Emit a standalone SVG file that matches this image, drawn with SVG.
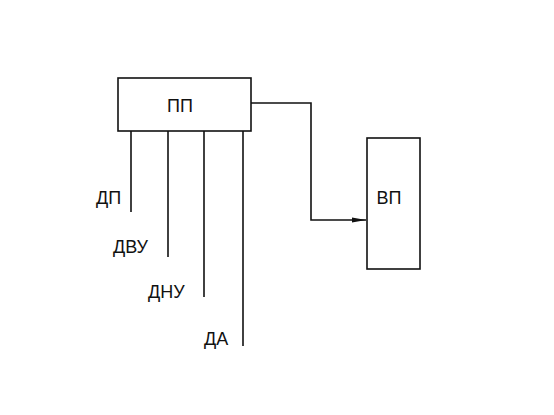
<svg xmlns="http://www.w3.org/2000/svg" width="554" height="415" viewBox="0 0 554 415">
<style>
.box{fill:#fff;stroke:#111;stroke-width:1.6}
.ln{fill:none;stroke:#111;stroke-width:1.6}
text{font-family:"Liberation Sans",Arial,sans-serif;font-size:18px;fill:#111}
</style>
<defs>
<marker id="arr" viewBox="0 0 14 6" refX="14" refY="3" markerWidth="14" markerHeight="6" markerUnits="userSpaceOnUse" orient="auto">
<path d="M0,0.5 L14,3 L0,5.5 Z" fill="#111"/>
</marker>
</defs>
<rect width="554" height="415" fill="#fff"/>
<g id="connectors">
<path class="ln" d="M131,131 V212"/>
<path class="ln" d="M168,131 V257"/>
<path class="ln" d="M204,131 V297"/>
<path class="ln" d="M243,131 V346"/>
<path class="ln" d="M251,103 H311 V220 H366" marker-end="url(#arr)"/>
</g>
<g id="node-pp">
<rect class="box" x="118" y="78" width="133" height="53"/>
<text x="180" y="112" text-anchor="middle">ПП</text>
</g>
<g id="node-vp">
<rect class="box" x="367" y="138" width="53" height="131"/>
<text x="389" y="204" text-anchor="middle">ВП</text>
</g>
<g id="label-dp"><text x="96" y="204">ДП</text></g>
<g id="label-dvu"><text x="113" y="253">ДВУ</text></g>
<g id="label-dnu"><text x="148" y="298">ДНУ</text></g>
<g id="label-da"><text x="204" y="345">ДА</text></g>
</svg>
